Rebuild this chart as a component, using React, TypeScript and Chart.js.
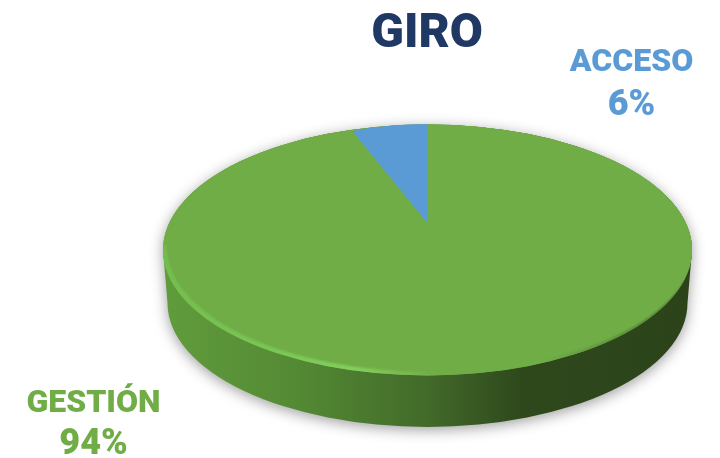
import React, { useEffect, useRef } from "react";
import { Chart, registerables } from "chart.js";

Chart.register(...registerables);

const categories = ["GESTIÓN", "ACCESO"];
const shares = [94, 6];
const sliceColors = ["#70AD47", "#5B9BD5"];
const chartTitle = "GIRO";
const labelFont = "Roboto";

// Projection of the flat pie onto the tilted disc
const FACE = { cx: 427.5, cy: 250, rx: 264.5, ry: 125.5 };
const BASE = { cy: 303, rx: 260, ry: 124 };
const WEDGE = { cx: 427.5, cy: 223, sx: 0.773, sy: 0.374 };
const LABEL_POS = [
  { x: 93.5, y: 412, y2: 454 },
  { x: 631.5, y: 71, y2: 115 },
];

const disc3d = {
  id: "disc3d",
  beforeDatasetDraw(chart: any) {
    const { ctx } = chart;
    const els = chart.getDatasetMeta(0).data;
    const R = els[0].outerRadius;
    const { cx, cy, rx, ry } = FACE;

    // wall with drop shadow
    const wall = ctx.createLinearGradient(cx - rx, 0, cx + rx, 0);
    wall.addColorStop(0, "#609C3C");
    wall.addColorStop(0.25, "#548A34");
    wall.addColorStop(0.5, "#426A2A");
    wall.addColorStop(0.68, "#2E481C");
    wall.addColorStop(1, "#2C431A");
    ctx.save();
    ctx.shadowColor = "rgba(0,0,0,0.38)";
    ctx.shadowBlur = 14;
    ctx.shadowOffsetY = 3;
    ctx.fillStyle = wall;
    ctx.beginPath();
    ctx.ellipse(cx, BASE.cy, BASE.rx, BASE.ry, 0, 0, Math.PI);
    ctx.lineTo(cx - rx, cy);
    ctx.ellipse(cx, cy, rx, ry, 0, Math.PI, 2 * Math.PI);
    ctx.closePath();
    ctx.fill();
    ctx.restore();

    // face: flat green, bevel on the lower half, then the flat top again
    const rim = ctx.createLinearGradient(cx - rx, 0, cx + rx, 0);
    rim.addColorStop(0, "#74BE4E");
    rim.addColorStop(0.2, "#7AC655");
    rim.addColorStop(0.36, "#84D05E");
    rim.addColorStop(0.52, sliceColors[0]);
    rim.addColorStop(0.72, sliceColors[0]);
    rim.addColorStop(1, "#4A7030");
    ctx.save();
    ctx.beginPath();
    ctx.ellipse(cx, cy, rx, ry, 0, 0, 2 * Math.PI);
    ctx.clip();
    ctx.fillStyle = sliceColors[0];
    ctx.fillRect(cx - rx - 2, cy - ry - 2, 2 * rx + 4, 2 * ry + 4);
    ctx.save();
    ctx.filter = "blur(3px)";
    ctx.fillStyle = rim;
    ctx.fillRect(cx - rx - 10, cy - 4, 2 * rx + 20, ry + 14);
    ctx.restore();
    ctx.filter = "blur(0.8px)";
    ctx.fillStyle = sliceColors[0];
    ctx.beginPath();
    ctx.ellipse(cx + 3, cy - 3, rx - 1, ry - 0.5, 0, 0, 2 * Math.PI);
    ctx.fill();
    ctx.restore();

    // slices from the library's arc elements (the green one stays inside the bevel)
    ctx.save();
    ctx.beginPath();
    ctx.ellipse(cx + 3, cy - 3.5, rx - 2, ry - 1.5, 0, 0, 2 * Math.PI);
    ctx.clip();
    ctx.translate(cx, cy);
    ctx.scale(rx / R, ry / R);
    ctx.translate(-els[0].x, -els[0].y);
    els[0].draw(ctx);
    ctx.restore();

    ctx.save();
    ctx.translate(WEDGE.cx, WEDGE.cy);
    ctx.scale((rx / R) * WEDGE.sx, (rx / R) * WEDGE.sy);
    ctx.translate(-els[1].x, -els[1].y);
    els[1].draw(ctx);
    ctx.restore();
    return false;
  },
  afterDatasetsDraw(chart: any) {
    const { ctx } = chart;
    const total = shares.reduce((a, b) => a + b, 0);
    ctx.save();
    ctx.textAlign = "center";
    ctx.textBaseline = "alphabetic";
    categories.forEach((name, i) => {
      ctx.fillStyle = sliceColors[i];
      ctx.font = `900 32px ${labelFont}`;
      ctx.fillText(name, LABEL_POS[i].x, LABEL_POS[i].y);
      ctx.font = `900 36px ${labelFont}`;
      ctx.fillText(`${Math.round((shares[i] / total) * 100)}%`, LABEL_POS[i].x, LABEL_POS[i].y2);
    });
    ctx.restore();
  },
};

export default function App() {
  const ref = useRef<HTMLCanvasElement>(null);
  useEffect(() => {
    const chart = new Chart(ref.current!, {
      type: "pie",
      data: {
        labels: categories,
        datasets: [{ data: shares, backgroundColor: sliceColors, borderWidth: 0 }],
      },
      options: {
        animation: false,
        responsive: false,
        layout: { padding: { left: 134 } },
        plugins: {
          legend: { display: false },
          tooltip: { enabled: false },
          title: {
            display: true,
            text: chartTitle,
            fullSize: false,
            color: "#1F3864",
            font: { family: labelFont, size: 48, weight: "900", lineHeight: 1 },
            padding: { top: 11, bottom: 0 },
          },
        },
      },
      plugins: [disc3d],
    } as any);
    return () => chart.destroy();
  }, []);
  return (
    <div style={{ position: "absolute", left: 0, top: 0, width: 720, height: 458, background: "#fff" }}>
      <canvas ref={ref} width={720} height={458} style={{ display: "block", filter: "blur(0.4px)" }} />
    </div>
  );
}
